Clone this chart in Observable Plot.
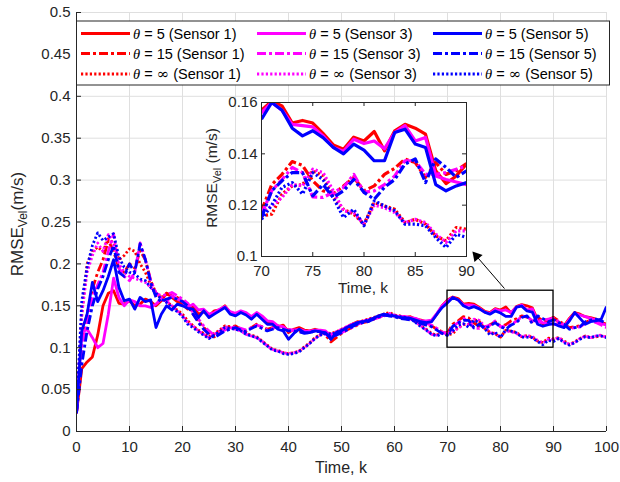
<!DOCTYPE html>
<html><head><meta charset="utf-8">
<script src="https://cdn.jsdelivr.net/npm/d3@7"></script>
<script src="https://cdn.jsdelivr.net/npm/@observablehq/plot@0.6"></script>
<style>
body{margin:0;background:#fff;}
#wrap{position:relative;width:620px;height:482px;font-family:"Liberation Sans",Arial,sans-serif;}
#wrap svg{position:absolute;}
</style></head><body><div id="wrap"></div>
<script>
// ---- data ----
const k = d3.range(0, 101);
const xTicks = [0,10,20,30,40,50,60,70,80,90,100];
const yTicks = [0,0.05,0.1,0.15,0.2,0.25,0.3,0.35,0.4,0.45,0.5];
const insetXTicks = [70,75,80,85,90];
const insetYTicks = [0.1,0.12,0.14,0.16];

const s1_t5 = [0.022,0.075,0.083,0.089,0.115,0.150,0.165,0.168,0.153,0.152,
 0.156,0.150,0.152,0.158,0.155,0.150,0.156,0.165,0.160,0.155,
 0.152,0.146,0.150,0.140,0.143,0.138,0.144,0.145,0.150,0.142,
 0.140,0.143,0.141,0.135,0.141,0.136,0.130,0.130,0.125,0.127,
 0.118,0.122,0.124,0.121,0.120,0.122,0.120,0.119,0.110,0.116,
 0.120,0.124,0.128,0.131,0.130,0.133,0.134,0.137,0.140,0.139,
 0.138,0.137,0.136,0.137,0.134,0.133,0.131,0.132,0.140,0.150,
 0.157,0.1605,0.1587,0.152,0.153,0.152,0.148,0.1435,0.1418,0.1465,
 0.145,0.1487,0.1412,0.149,0.1515,0.150,0.1477,0.1334,0.1284,0.1314,
 0.136,0.130,0.126,0.135,0.142,0.140,0.137,0.136,0.134,0.130,
 0.128];
const s3_t5 = [0.022,0.118,0.122,0.112,0.100,0.105,0.140,0.183,0.160,0.150,
 0.157,0.155,0.150,0.150,0.148,0.152,0.158,0.155,0.162,0.158,
 0.155,0.148,0.152,0.145,0.146,0.140,0.142,0.146,0.149,0.143,
 0.141,0.144,0.142,0.137,0.142,0.138,0.132,0.131,0.126,0.125,
 0.120,0.121,0.122,0.120,0.119,0.121,0.121,0.120,0.114,0.117,
 0.121,0.125,0.128,0.130,0.131,0.133,0.135,0.136,0.139,0.139,
 0.138,0.137,0.137,0.136,0.135,0.132,0.132,0.133,0.141,0.150,
 0.156,0.160,0.157,0.1515,0.151,0.1505,0.147,0.1425,0.141,0.1457,
 0.144,0.145,0.142,0.1483,0.151,0.145,0.1464,0.1314,0.130,0.129,
 0.128,0.128,0.125,0.134,0.141,0.139,0.137,0.135,0.133,0.129,
 0.127];
const s5_t5 = [0.022,0.120,0.140,0.178,0.155,0.168,0.185,0.205,0.172,0.156,
 0.158,0.146,0.160,0.155,0.157,0.124,0.140,0.150,0.145,0.152,
 0.150,0.147,0.146,0.136,0.144,0.136,0.140,0.144,0.148,0.140,
 0.138,0.142,0.139,0.134,0.140,0.134,0.128,0.128,0.122,0.120,
 0.110,0.117,0.122,0.118,0.118,0.120,0.119,0.118,0.110,0.118,
 0.120,0.124,0.127,0.130,0.131,0.132,0.135,0.138,0.140,0.138,
 0.138,0.136,0.136,0.135,0.133,0.131,0.130,0.131,0.140,0.148,
 0.1535,0.160,0.157,0.150,0.147,0.149,0.1463,0.1425,0.140,0.1438,
 0.1414,0.1373,0.1373,0.1483,0.1496,0.1438,0.1425,0.128,0.1256,0.1275,
 0.1288,0.126,0.124,0.132,0.142,0.135,0.128,0.131,0.132,0.134,
 0.149];

const s1_t15 = [0.022,0.110,0.140,0.170,0.190,0.205,0.228,0.215,0.195,0.190,
 0.200,0.195,0.216,0.205,0.180,0.165,0.160,0.165,0.162,0.160,
 0.155,0.152,0.140,0.132,0.124,0.118,0.113,0.117,0.122,0.125,
 0.126,0.122,0.120,0.124,0.128,0.125,0.122,0.124,0.126,0.124,
 0.121,0.122,0.120,0.118,0.119,0.121,0.120,0.115,0.107,0.112,
 0.117,0.121,0.124,0.127,0.130,0.131,0.134,0.136,0.139,0.139,
 0.138,0.136,0.134,0.135,0.132,0.130,0.128,0.126,0.122,0.119,
 0.1178,0.128,0.132,0.137,0.1355,0.1295,0.1256,0.1243,0.1275,0.1308,
 0.1256,0.1275,0.132,0.1344,0.138,0.1366,0.1308,0.1366,0.132,0.1334,
 0.1362,0.132,0.128,0.124,0.125,0.126,0.130,0.133,0.133,0.130,
 0.127];
const s3_t15 = [0.022,0.100,0.130,0.160,0.175,0.190,0.215,0.236,0.195,0.185,
 0.180,0.190,0.225,0.205,0.180,0.165,0.162,0.163,0.166,0.162,
 0.158,0.153,0.142,0.134,0.126,0.120,0.115,0.118,0.121,0.124,
 0.125,0.123,0.121,0.124,0.127,0.125,0.121,0.123,0.125,0.124,
 0.122,0.121,0.119,0.118,0.120,0.120,0.119,0.116,0.112,0.115,
 0.118,0.121,0.124,0.128,0.130,0.132,0.134,0.136,0.138,0.139,
 0.138,0.136,0.135,0.134,0.133,0.130,0.129,0.127,0.123,0.118,
 0.1165,0.1256,0.130,0.1347,0.1327,0.1232,0.123,0.125,0.1269,0.132,
 0.125,0.1256,0.128,0.1314,0.1373,0.1373,0.132,0.132,0.1327,0.134,
 0.1353,0.131,0.127,0.123,0.124,0.125,0.129,0.132,0.130,0.127,
 0.124];
const s5_t15 = [0.022,0.080,0.120,0.150,0.170,0.185,0.205,0.222,0.190,0.185,
 0.200,0.190,0.224,0.205,0.178,0.160,0.155,0.158,0.160,0.158,
 0.155,0.150,0.140,0.130,0.122,0.116,0.112,0.116,0.120,0.122,
 0.124,0.121,0.119,0.123,0.126,0.123,0.120,0.122,0.124,0.122,
 0.120,0.120,0.119,0.117,0.118,0.120,0.119,0.116,0.113,0.115,
 0.118,0.121,0.125,0.128,0.130,0.131,0.134,0.137,0.139,0.138,
 0.137,0.135,0.134,0.133,0.131,0.129,0.127,0.125,0.121,0.117,
 0.1152,0.1256,0.1295,0.1327,0.1327,0.1236,0.128,0.123,0.1256,0.130,
 0.125,0.1223,0.127,0.130,0.136,0.138,0.1288,0.138,0.1347,0.1308,
 0.1334,0.130,0.128,0.122,0.124,0.125,0.131,0.133,0.134,0.132,
 0.129];

const s1_tinf = [0.022,0.140,0.200,0.215,0.220,0.215,0.230,0.225,0.205,0.210,
 0.218,0.215,0.200,0.190,0.175,0.165,0.160,0.155,0.150,0.145,
 0.140,0.132,0.126,0.121,0.117,0.113,0.117,0.121,0.126,0.125,
 0.123,0.121,0.117,0.115,0.113,0.108,0.103,0.098,0.097,0.094,
 0.093,0.094,0.096,0.101,0.106,0.112,0.116,0.118,0.117,0.119,
 0.122,0.125,0.128,0.130,0.132,0.134,0.136,0.138,0.140,0.142,
 0.139,0.138,0.137,0.136,0.131,0.126,0.122,0.117,0.115,0.118,
 0.1158,0.1165,0.1243,0.1275,0.128,0.1334,0.1314,0.123,0.1184,0.1165,
 0.1126,0.121,0.1197,0.1184,0.1132,0.1145,0.1126,0.108,0.1061,0.1113,
 0.1106,0.112,0.108,0.104,0.107,0.111,0.114,0.112,0.113,0.114,
 0.113];
const s3_tinf = [0.022,0.140,0.190,0.210,0.225,0.215,0.235,0.222,0.200,0.190,
 0.185,0.183,0.180,0.178,0.172,0.165,0.160,0.156,0.150,0.144,
 0.138,0.130,0.126,0.120,0.116,0.112,0.116,0.120,0.125,0.124,
 0.122,0.120,0.116,0.114,0.112,0.108,0.102,0.098,0.096,0.094,
 0.093,0.094,0.096,0.100,0.105,0.111,0.115,0.118,0.116,0.119,
 0.122,0.124,0.127,0.130,0.132,0.133,0.135,0.137,0.139,0.141,
 0.139,0.137,0.137,0.135,0.131,0.126,0.121,0.116,0.115,0.119,
 0.1171,0.1197,0.123,0.128,0.1275,0.134,0.1327,0.1256,0.1178,0.1171,
 0.1126,0.120,0.119,0.1171,0.1132,0.1145,0.1132,0.1087,0.1055,0.110,
 0.110,0.112,0.107,0.104,0.106,0.111,0.114,0.112,0.114,0.115,
 0.112];
const s5_tinf = [0.022,0.156,0.196,0.222,0.237,0.228,0.232,0.236,0.208,0.196,
 0.190,0.188,0.182,0.180,0.172,0.165,0.158,0.154,0.148,0.143,
 0.137,0.128,0.124,0.119,0.115,0.111,0.115,0.119,0.124,0.123,
 0.122,0.120,0.116,0.114,0.112,0.107,0.102,0.097,0.096,0.093,
 0.092,0.093,0.095,0.100,0.105,0.111,0.115,0.117,0.116,0.118,
 0.121,0.124,0.127,0.129,0.131,0.133,0.135,0.137,0.139,0.140,
 0.138,0.137,0.136,0.135,0.130,0.125,0.121,0.116,0.114,0.117,
 0.1145,0.120,0.1269,0.1288,0.1243,0.1327,0.130,0.123,0.1152,0.1184,
 0.112,0.1217,0.1197,0.1178,0.1126,0.1126,0.112,0.1074,0.1035,0.1087,
 0.1074,0.111,0.106,0.103,0.106,0.110,0.113,0.112,0.114,0.114,
 0.112];

const sensors = ["Sensor 1", "Sensor 3", "Sensor 5"];
const thetas = ["5", "15", "∞"];
const sensorColors = ["#ff0000", "#ff00ff", "#0000ff"];
const thetaStyles = ["solid", "dashdot", "dotted"];
const seriesValues = [
  [s1_t5, s1_t15, s1_tinf],
  [s3_t5, s3_t15, s3_tinf],
  [s5_t5, s5_t15, s5_tinf]
];
// zoom annotation (data coordinates)
const zoomBox = {x1: 70, x2: 90, y1: 0.1, y2: 0.168};
const arrowLine = {x1: 80.75, y1: 0.1706, x2: 75.5, y2: 0.209};
const arrowHead = {x: 75.47, y: 0.2092};

// ---- rendering ----
const FONT = '"Liberation Sans", Arial, sans-serif';
const dashes = {solid: undefined, dashdot: "9,3,3,3", dotted: "2.2,2.2"};
const series = [];
sensors.forEach((s, si) => thetas.forEach((t, ti) => {
  series.push({sensor: s, theta: t, si, ti, color: sensorColors[si], style: thetaStyles[ti],
    rows: k.map((kk, i) => ({k: kk, v: seriesValues[si][ti][i]}))});
}));

function lines(filterFn, sw) {
  return series.map(s => Plot.line(s.rows.filter(filterFn), {
    x: "k", y: "v", stroke: s.color, strokeWidth: sw,
    strokeDasharray: dashes[s.style], strokeLinejoin: "round", strokeLinecap: "butt", clip: true
  }));
}

const W = 620, H = 482, mL = 76, mR = 14, mT = 12, mB = 51;
const fW = W - mL - mR, fH = H - mT - mB;
const fmt = d => String(d);

const main = Plot.plot({
  width: W, height: H, marginLeft: mL, marginRight: mR, marginTop: mT, marginBottom: mB,
  style: {fontFamily: FONT, fontSize: "15px", color: "#262626", background: "transparent", overflow: "visible"},
  x: {domain: [0, 100]}, y: {domain: [0, 0.5]},
  marks: [
    Plot.gridX(xTicks, {stroke: "#dfdfdf", strokeOpacity: 1}),
    Plot.gridY(yTicks, {stroke: "#dfdfdf", strokeOpacity: 1}),
    ...lines(() => true, 2.8),
    Plot.rect([zoomBox], {x1: "x1", x2: "x2", y1: "y1", y2: "y2", fill: "none", stroke: "#000", strokeWidth: 1.3}),
    Plot.link([arrowLine], {x1: "x1", y1: "y1", x2: "x2", y2: "y2", stroke: "#000", strokeWidth: 1}),
    Plot.dot([arrowHead], {x: "x", y: "y", symbol: "triangle", r: 4, fill: "#000", stroke: "none", rotate: -40.8}),
    Plot.axisX(xTicks, {tickSize: 0, tickPadding: 10, tickFormat: fmt, label: null}),
    Plot.axisY(yTicks, {tickSize: 0, tickPadding: 6, tickFormat: fmt, label: null}),
    Plot.tickY(yTicks, {y: d => d, insetRight: fW - 5, stroke: "#262626"}),
    Plot.tickX(xTicks, {x: d => d, insetTop: fH - 5, stroke: "#262626"}),
    Plot.ruleX([0], {stroke: "#262626"}),
    Plot.ruleY([0], {stroke: "#262626"})
  ]
});
main.style.left = "0px"; main.style.top = "0px";
document.getElementById("wrap").appendChild(main);

const ms = d3.select(main);
// axis labels
ms.append("text").attr("x", 341).attr("y", 473).attr("text-anchor", "middle")
  .attr("font-size", 16).attr("fill", "#262626").text("Time, k");
const yl = ms.append("text").attr("transform", "translate(23,224) rotate(-90)")
  .attr("text-anchor", "middle").attr("font-size", 17).attr("fill", "#262626");
yl.append("tspan").text("RMSE");
yl.append("tspan").attr("dy", 4).attr("font-size", 12).text("Vel");
yl.append("tspan").attr("dy", -4).text("(m/s)");

// legend
const lg = ms.append("g").attr("text-anchor", "start");
lg.append("rect").attr("x", 76.5).attr("y", 21).attr("width", 533).attr("height", 64)
  .attr("fill", "white").attr("stroke", "#262626").attr("stroke-width", 1);
const rowY = [33.5, 53.5, 74];
series.forEach(s => {
  const x0 = 81 + 176 * s.si, y = rowY[s.ti];
  lg.append("line").attr("x1", x0).attr("x2", x0 + 49).attr("y1", y).attr("y2", y)
    .attr("stroke", s.color).attr("stroke-width", 2.8)
    .attr("stroke-dasharray", dashes[s.style] || null);
  const t = lg.append("text").attr("x", x0 + 52).attr("y", y + 5).attr("text-anchor", "start")
    .attr("font-size", 14.5).attr("fill", "#000");
  t.append("tspan").attr("font-family", '"Liberation Serif", serif').attr("font-style", "italic").text("θ");
  t.append("tspan").text(" = ");
  if (s.theta === "∞") t.append("tspan").attr("font-family", '"DejaVu Serif", serif').attr("font-size", 15).text("∞");
  else t.append("tspan").text(s.theta);
  t.append("tspan").text(" (" + s.sensor + ")");
});

// ---- inset ----
const iW = 290, iH = 215, imL = 71, imR = 14, imT = 12, imB = 49;
const ifW = iW - imL - imR, ifH = iH - imT - imB;
const inset = Plot.plot({
  width: iW, height: iH, marginLeft: imL, marginRight: imR, marginTop: imT, marginBottom: imB,
  style: {fontFamily: FONT, fontSize: "15px", color: "#262626", background: "transparent", overflow: "visible"},
  x: {domain: [70, 90]}, y: {domain: [0.1, 0.16]},
  marks: [
    Plot.frame({fill: "white", stroke: "none"}),
    ...lines(d => d.k >= 70 && d.k <= 90, 3.2),
    Plot.frame({stroke: "#262626", fill: "none"}),
    Plot.axisX(insetXTicks, {tickSize: 0, tickPadding: 9, tickFormat: fmt, label: null}),
    Plot.axisY(insetYTicks, {tickSize: 0, tickPadding: 4, tickFormat: fmt, label: null}),
    Plot.tickY(insetYTicks, {y: d => d, insetRight: ifW - 4, stroke: "#262626"}),
    Plot.tickY(insetYTicks, {y: d => d, insetLeft: ifW - 4, stroke: "#262626"}),
    Plot.tickX(insetXTicks, {x: d => d, insetTop: ifH - 4, stroke: "#262626"}),
    Plot.tickX(insetXTicks, {x: d => d, insetBottom: ifH - 4, stroke: "#262626"})
  ]
});
inset.style.left = "190px"; inset.style.top = "90px";
document.getElementById("wrap").appendChild(inset);
const is = d3.select(inset);
is.append("text").attr("x", 173).attr("y", 203).attr("text-anchor", "middle")
  .attr("font-size", 15.5).attr("fill", "#262626").text("Time, k");
const il = is.append("text").attr("transform", "translate(27,88) rotate(-90)")
  .attr("text-anchor", "middle").attr("font-size", 15.5).attr("fill", "#262626");
il.append("tspan").text("RMSE");
il.append("tspan").attr("dy", 4).attr("font-size", 11).text("Vel");
il.append("tspan").attr("dy", -4).text(" (m/s)");
</script></body></html>
